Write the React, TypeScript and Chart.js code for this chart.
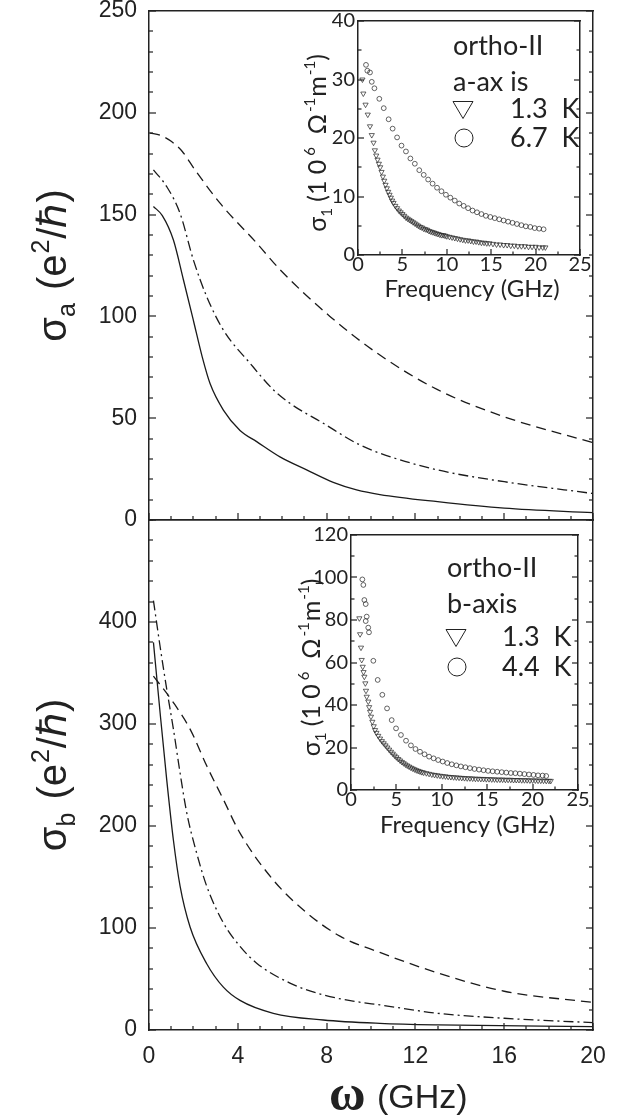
import React, { useEffect, useRef } from 'react';
import { Chart, registerables } from 'chart.js';
Chart.register(...registerables);

// ---------- main panel (a-axis) : sigma_a vs omega (GHz) ----------
const aDashW = [0.05, 0.5, 1.0, 1.5, 2.07, 3.2, 4.85, 5.9, 8.15, 10.4, 13, 16, 20];
const aDashS = [190, 189, 186, 181, 172, 155.6, 136, 123, 100, 81, 64, 50.7, 38];
const aDotW = [0.2, 0.8, 1.4, 2.0, 2.6, 3.35, 4.55, 5.6, 6.35, 7.85, 9.35, 10.4, 13, 16, 20];
const aDotS = [172, 163.7, 150.6, 127.7, 109.7, 93.3, 77, 64, 57.3, 47.5, 37.7, 32.8, 24.6, 18.8, 13];
const aSolW = [0.2, 0.6, 1.1, 1.55, 2.0, 2.4, 2.75, 3.35, 4.1, 4.85, 5.9, 7.1, 8.3, 9.35, 10.4, 13, 16, 20];
const aSolS = [154, 149.5, 137.5, 118, 98, 80, 67, 54, 44, 38.5, 31, 24.6, 18.5, 14.8, 12.5, 9, 5.8, 3.6];

// ---------- main panel (b-axis) ----------
const bDashW = [0.2, 1.1, 1.85, 2.6, 3.35, 4.1, 5.6, 7.1, 8.6, 10.4, 13, 16, 20];
const bDashS = [347, 321, 295, 259, 226, 193, 147, 115, 92, 76, 56, 38, 27];
const bDotW = [0.2, 0.5, 0.8, 1.1, 1.4, 1.7, 2.14, 2.6, 3.35, 4.1, 4.85, 6.35, 7.85, 9.35, 10.4, 13, 16, 20];
const bDotS = [421, 376, 334, 295, 252, 213, 174, 141, 105, 82, 65.5, 46, 34.4, 27.8, 24.6, 16.4, 11.5, 7.2];
const bSolW = [0.2, 0.5, 0.8, 1.1, 1.4, 1.85, 2.6, 3.35, 4.1, 5.6, 7.85, 10.4, 13, 20];
const bSolS = [380, 311, 245, 186, 141, 101, 65, 42, 29, 16.4, 9.8, 6.5, 5, 3.3];

const mainXLabels = [0, 4, 8, 12, 16, 20];
const aYLabels = [0, 50, 100, 150, 200, 250];
const bYLabels = [0, 100, 200, 300, 400];

// ---------- inset a (a-axis) ----------
const iaTriF = [0.5, 0.6, 0.85, 1.1, 1.35, 1.55, 1.75, 1.9, 2.05, 2.2, 2.35, 2.5, 2.65, 2.8, 2.95, 3.1, 3.25, 3.4, 3.55, 3.7, 3.85, 4.0, 4.2, 4.4, 4.6, 4.8, 5.0, 5.2, 5.4, 5.6, 5.8, 6.0, 6.2, 6.4, 6.6, 6.8, 7.0, 7.2, 7.4, 7.6, 7.8, 8.0, 8.2, 8.4, 8.6, 8.8, 9.0, 9.2, 9.4, 9.6, 9.8, 10.0, 10.3, 10.6, 10.9, 11.2, 11.5, 11.8, 12.1, 12.4, 12.7, 13.0, 13.3, 13.6, 13.9, 14.2, 14.5, 14.8, 15.2, 15.6, 16.0, 16.4, 16.8, 17.2, 17.6, 18.0, 18.4, 18.8, 19.2, 19.6, 20.0, 20.4, 20.8, 21.1];
const iaTriS = [30.0, 27.6, 25.7, 24.0, 22.0, 20.5, 19.2, 17.9, 17.0, 16.3, 15.6, 15.0, 14.2, 13.4, 12.7, 12.0, 11.4, 10.8, 10.3, 9.8, 9.3, 8.9, 8.4, 8.0, 7.6, 7.3, 7.0, 6.7, 6.4, 6.2, 6.0, 5.8, 5.6, 5.4, 5.2, 5.0, 4.8, 4.7, 4.5, 4.4, 4.3, 4.1, 4.0, 3.9, 3.8, 3.7, 3.6, 3.5, 3.4, 3.4, 3.3, 3.2, 3.1, 3.0, 2.9, 2.8, 2.7, 2.6, 2.5, 2.5, 2.4, 2.3, 2.3, 2.2, 2.1, 2.1, 2.0, 2.0, 1.9, 1.8, 1.8, 1.7, 1.7, 1.6, 1.6, 1.5, 1.5, 1.5, 1.4, 1.4, 1.4, 1.3, 1.3, 1.3];
const iaCirF = [0.9, 1.05, 1.35, 1.55, 1.85, 2.4, 2.9, 3.45, 3.9, 4.4, 4.9, 5.4, 5.9, 6.4, 6.9, 7.4, 7.9, 8.4, 8.9, 9.4, 9.9, 10.4, 10.9, 11.4, 11.9, 12.4, 12.9, 13.4, 13.9, 14.4, 14.9, 15.4, 15.9, 16.4, 16.9, 17.4, 17.9, 18.4, 18.9, 19.4, 19.9, 20.4, 20.9];
const iaCirS = [32.5, 31.5, 31.2, 29.6, 28.5, 26.7, 25.1, 23.2, 21.6, 20.1, 18.7, 17.7, 16.5, 15.6, 14.5, 13.7, 12.9, 12.2, 11.5, 10.9, 10.3, 9.8, 9.3, 8.8, 8.4, 8.0, 7.6, 7.3, 7.0, 6.7, 6.5, 6.3, 6.1, 5.9, 5.7, 5.5, 5.3, 5.1, 4.9, 4.8, 4.6, 4.5, 4.4];

// ---------- inset b (b-axis) ----------
const ibTriF = [0.92, 1.0, 1.1, 1.18, 1.29, 1.38, 1.47, 1.58, 1.65, 1.73, 1.9, 2.0, 2.1, 2.2, 2.35, 2.5, 2.65, 2.8, 3.0, 3.2, 3.4, 3.6, 3.8, 4.0, 4.2, 4.4, 4.6, 4.8, 5.0, 5.2, 5.4, 5.6, 5.8, 6.0, 6.2, 6.4, 6.6, 6.8, 7.0, 7.2, 7.4, 7.6, 7.8, 8.0, 8.3, 8.6, 8.9, 9.2, 9.5, 9.8, 10.1, 10.4, 10.7, 11.0, 11.3, 11.6, 11.9, 12.2, 12.5, 12.8, 13.1, 13.4, 13.7, 14.0, 14.3, 14.6, 14.9, 15.2, 15.5, 15.8, 16.1, 16.4, 16.7, 17.0, 17.3, 17.6, 17.9, 18.2, 18.5, 18.8, 19.1, 19.4, 19.7, 20.0, 20.3, 20.6, 20.9, 21.2, 21.5, 21.8, 22.0];
const ibTriS = [80.8, 73.3, 67, 61.2, 58, 55.5, 53.3, 50.2, 46.7, 43.9, 41.6, 39, 36.8, 34.5, 32.1, 30, 28.2, 26.9, 25.5, 24.2, 23.0, 22.0, 21.0, 20.0, 19.0, 18.0, 17.1, 16.2, 15.4, 14.6, 13.9, 13.2, 12.6, 12.0, 11.5, 11.0, 10.5, 10.1, 9.7, 9.3, 9.0, 8.7, 8.4, 8.2, 7.9, 7.6, 7.3, 7.1, 6.9, 6.7, 6.5, 6.4, 6.2, 6.1, 6.0, 5.9, 5.8, 5.7, 5.6, 5.5, 5.5, 5.4, 5.3, 5.3, 5.2, 5.2, 5.1, 5.1, 5.0, 5.0, 4.9, 4.9, 4.9, 4.8, 4.8, 4.8, 4.7, 4.7, 4.7, 4.6, 4.6, 4.6, 4.5, 4.5, 4.5, 4.4, 4.4, 4.4, 4.3, 4.3, 4.3];
const ibCirF = [1.25, 1.36, 1.47, 1.62, 1.73, 1.62, 1.9, 1.98, 2.46, 2.94, 3.45, 3.97, 4.48, 4.96, 5.5, 6.06, 6.6, 7.1, 7.6, 8.1, 8.6, 9.1, 9.6, 10.1, 10.6, 11.1, 11.6, 12.1, 12.6, 13.1, 13.6, 14.1, 14.6, 15.1, 15.6, 16.1, 16.6, 17.1, 17.6, 18.1, 18.6, 19.1, 19.6, 20.1, 20.6, 21.1, 21.5];
const ibCirS = [99.1, 96.5, 89.4, 87.5, 81.6, 79.5, 76.4, 74.2, 60.8, 51.8, 44.8, 38.4, 32.9, 29.0, 25.9, 23.2, 21.0, 19.3, 18.0, 16.8, 15.7, 14.9, 14.1, 13.4, 12.7, 12.1, 11.6, 11.1, 10.7, 10.3, 9.9, 9.6, 9.3, 9.0, 8.8, 8.6, 8.4, 8.2, 8.0, 7.9, 7.7, 7.5, 7.3, 7.1, 6.9, 6.8, 6.6];

const insetXLabels = [0, 5, 10, 15, 20, 25];
const iaYLabels = [0, 10, 20, 30, 40];
const ibYLabels = [0, 20, 40, 60, 80, 100, 120];
const iaLegend = ['ortho-II', 'a-ax is', '1.3  K', '6.7  K'];
const ibLegend = ['ortho-II', 'b-axis', '1.3  K', '4.4  K'];

// ---------------------------------------------------------------
const SANS = "'Liberation Sans', Arial, sans-serif";
const INF = "Lato, 'Open Sans', sans-serif";
const INK = '#222';

const zip = (xs: number[], ys: number[]) => xs.map((x, i) => ({ x, y: ys[i] }));

type Run = { t: string; f: string; dy?: number; dx?: number };
function runsWidth(ctx: CanvasRenderingContext2D, runs: Run[]) {
  let w = 0;
  for (const r of runs) { ctx.font = r.f; w += ctx.measureText(r.t).width + (r.dx || 0); }
  return w;
}
function drawRuns(ctx: CanvasRenderingContext2D, runs: Run[], x: number, y: number) {
  let cx = x;
  for (const r of runs) {
    ctx.font = r.f;
    cx += r.dx || 0;
    ctx.fillText(r.t, cx, y + (r.dy || 0));
    cx += ctx.measureText(r.t).width;
  }
}
function drawRotated(ctx: CanvasRenderingContext2D, runs: Run[], bx: number, cy: number) {
  ctx.save();
  ctx.translate(bx, cy);
  ctx.rotate(-Math.PI / 2);
  ctx.textBaseline = 'alphabetic';
  ctx.textAlign = 'left';
  const w = runsWidth(ctx, runs);
  drawRuns(ctx, runs, -w / 2, 0);
  ctx.restore();
}

function framePlugin(opt: {
  xMax: number; xStep: number; xMajor: number[];
  yMax: number; yStep: number; yMajor: number[];
  maj: number; min: number; lw: number;
}) {
  return {
    id: 'frameTicks',
    afterDraw(chart: any) {
      const ctx = chart.ctx as CanvasRenderingContext2D;
      const a = chart.chartArea;
      const xs = chart.scales.x;
      const ys = chart.scales.y;
      ctx.save();
      ctx.setLineDash([]);
      ctx.fillStyle = INK;
      const L = Math.round(a.left), R = Math.round(a.right), T = Math.round(a.top), B = Math.round(a.bottom);
      // frame
      ctx.fillRect(L - 1, T - 1, R - L + 2, opt.lw);
      ctx.fillRect(L - 1, B - 1, R - L + 2, opt.lw);
      ctx.fillRect(L - 1, T - 1, opt.lw, B - T + 2);
      ctx.fillRect(R - 1, T - 1, opt.lw, B - T + 2);
      // ticks
      const n = Math.round(opt.xMax / opt.xStep);
      for (let i = 0; i <= n; i++) {
        const v = i * opt.xStep;
        const px = Math.round(xs.getPixelForValue(v));
        const len = opt.xMajor.includes(v) ? opt.maj : opt.min;
        ctx.fillRect(px - 0.6, B - len, 1.2, len);
      }
      const m = Math.round(opt.yMax / opt.yStep);
      for (let i = 0; i <= m; i++) {
        const v = i * opt.yStep;
        const py = Math.round(ys.getPixelForValue(v));
        const len = opt.yMajor.includes(v) ? opt.maj : opt.min;
        ctx.fillRect(L, py - 0.6, len, 1.2);
        ctx.fillRect(R - len, py - 0.6, len, 1.2);
      }
      ctx.restore();
    },
  };
}

function textPlugin(draw: (ctx: CanvasRenderingContext2D, chart: any) => void) {
  return {
    id: 'texts',
    afterDraw(chart: any) {
      const ctx = chart.ctx as CanvasRenderingContext2D;
      ctx.save();
      ctx.fillStyle = INK;
      ctx.strokeStyle = INK;
      draw(ctx, chart);
      ctx.restore();
    },
  };
}

const lineDs = (xs: number[], ys: number[], dash: number[]) => ({
  data: zip(xs, ys),
  borderColor: '#1a1a1a',
  borderWidth: 1.3,
  borderDash: dash,
  pointRadius: 0,
  fill: false,
  cubicInterpolationMode: 'monotone' as const,
});

function mainConfig(p: {
  series: { w: number[]; s: number[]; dash: number[] }[];
  yMax: number; yStep: number; yLabels: number[]; padTop: number; xHeight: number; showX: boolean;
  texts: (ctx: CanvasRenderingContext2D, chart: any) => void;
}) {
  return {
    type: 'line',
    data: { datasets: p.series.map((s) => lineDs(s.w, s.s, s.dash)) },
    options: {
      responsive: false,
      maintainAspectRatio: false,
      animation: false,
      layout: { padding: { top: p.padTop, right: 33, left: 0, bottom: 0 } },
      plugins: { legend: { display: false }, tooltip: { enabled: false } },
      scales: {
        x: {
          type: 'linear', min: 0, max: 20,
          ticks: {
            stepSize: 1, display: p.showX, padding: 15, color: INK,
            font: { family: SANS, size: 23, lineHeight: 1 },
            callback: (v: number) => (mainXLabels.includes(v) ? String(v) : ''),
            maxRotation: 0, autoSkip: false,
          },
          grid: { display: false, drawTicks: false },
          border: { display: false },
          afterFit: (s: any) => { s.height = p.xHeight; s.paddingLeft = 0; s.paddingRight = 0; },
        },
        y: {
          type: 'linear', min: 0, max: p.yMax,
          ticks: {
            stepSize: p.yStep, padding: 12, color: INK,
            font: { family: SANS, size: 23, lineHeight: 1 },
            callback: (v: number) => (p.yLabels.includes(v) ? String(v) : ''),
            autoSkip: false,
          },
          grid: { display: false, drawTicks: false },
          border: { display: false },
          afterFit: (s: any) => { s.width = 149; s.paddingTop = 0; s.paddingBottom = 0; },
        },
      },
    },
    plugins: [
      framePlugin({
        xMax: 20, xStep: 1, xMajor: mainXLabels,
        yMax: p.yMax, yStep: p.yStep, yMajor: p.yLabels,
        maj: 7, min: 4, lw: 1.5,
      }),
      textPlugin(p.texts),
    ],
  };
}

function insetConfig(p: {
  tri: { f: number[]; s: number[] }; cir: { f: number[]; s: number[] };
  yMax: number; yStep: number; yLabels: number[]; padTop: number; padRight: number; yWidth: number;
  legend: string[]; lg: { x: number; y1: number; y2: number; sx: number; tx: number; y3: number; y4: number };
  titleX: number; xTitleY: number;
}) {
  const pointDs = (d: { f: number[]; s: number[] }, style: string, r: number, rot: number) => ({
    data: zip(d.f, d.s),
    pointStyle: style,
    rotation: rot,
    pointRadius: r,
    pointBorderWidth: 0.7,
    borderColor: INK,
    backgroundColor: 'rgba(0,0,0,0)',
    showLine: false,
  });
  return {
    type: 'scatter',
    data: {
      datasets: [pointDs(p.tri, 'triangle', 3, 180), pointDs(p.cir, 'circle', 2.4, 0)],
    },
    options: {
      responsive: false,
      maintainAspectRatio: false,
      animation: false,
      layout: { padding: { top: p.padTop, right: p.padRight, left: 0, bottom: 0 } },
      plugins: { legend: { display: false }, tooltip: { enabled: false } },
      scales: {
        x: {
          type: 'linear', min: 0, max: 25,
          ticks: {
            stepSize: 2.5, padding: 0, color: INK,
            font: { family: INF, size: 20, lineHeight: 1 },
            callback: (v: number) => (insetXLabels.includes(v) ? String(v) : ''),
            maxRotation: 0, autoSkip: false,
          },
          grid: { display: false, drawTicks: false },
          border: { display: false },
          afterFit: (s: any) => { s.height = 55; s.paddingLeft = 0; s.paddingRight = 0; },
        },
        y: {
          type: 'linear', min: 0, max: p.yMax,
          ticks: {
            stepSize: p.yStep, padding: 3, color: INK,
            font: { family: INF, size: 20, lineHeight: 1 },
            callback: (v: number) => (p.yLabels.includes(v) ? String(v) : ''),
            autoSkip: false,
          },
          grid: { display: false, drawTicks: false },
          border: { display: false },
          afterFit: (s: any) => { s.width = p.yWidth; s.paddingTop = 0; s.paddingBottom = 0; },
        },
      },
    },
    plugins: [
      framePlugin({
        xMax: 25, xStep: 2.5, xMajor: insetXLabels,
        yMax: p.yMax, yStep: p.yStep, yMajor: p.yLabels,
        maj: 6, min: 3.5, lw: 1.5,
      }),
      textPlugin((ctx, chart) => {
        const a = chart.chartArea;
        // x title
        ctx.font = `24px ${INF}`;
        ctx.textAlign = 'center';
        ctx.textBaseline = 'alphabetic';
        ctx.fillText('Frequency (GHz)', (a.left + a.right) / 2 + 3, p.xTitleY);
        // y title
        const big = `25px ${INF}`;
        const sm = `15px ${INF}`;
        drawRotated(ctx, [
          { t: 'σ', f: big },
          { t: '1', f: sm, dy: 6 },
          { t: ' (1 0', f: big },
          { t: '6', f: sm, dy: -11, dx: 4 },
          { t: '  Ω', f: big },
          { t: '-1', f: sm, dy: -11, dx: 2 },
          { t: 'm', f: big, dx: 1 },
          { t: '-1', f: sm, dy: -11, dx: 1 },
          { t: ')', f: big },
        ], p.titleX, (a.top + a.bottom) / 2 + 5);
        // legend
        ctx.textAlign = 'left';
        ctx.font = `27px ${INF}`;
        const L = p.lg;
        ctx.fillText(p.legend[0], L.x, L.y1);
        ctx.fillText(p.legend[1], L.x, L.y2);
        ctx.fillText(p.legend[2], L.tx, L.y3);
        ctx.fillText(p.legend[3], L.tx, L.y4);
        ctx.lineWidth = 1;
        const ty = L.y3 - 8;
        ctx.beginPath();
        ctx.moveTo(L.sx - 10, ty - 8.5);
        ctx.lineTo(L.sx + 10, ty - 8.5);
        ctx.lineTo(L.sx, ty + 8.5);
        ctx.closePath();
        ctx.stroke();
        ctx.beginPath();
        ctx.arc(L.sx + 1, L.y4 - 9, 9, 0, Math.PI * 2);
        ctx.stroke();
      }),
    ],
  };
}

function ChartCanvas({ left, top, width, height, config }: { left: number; top: number; width: number; height: number; config: () => any }) {
  const ref = useRef<HTMLCanvasElement>(null);
  useEffect(() => {
    if (!ref.current) return;
    const chart = new Chart(ref.current, config());
    return () => chart.destroy();
  }, []);
  return (
    <canvas
      ref={ref}
      width={width}
      height={height}
      style={{ position: 'absolute', left, top, width, height }}
    />
  );
}

const mainTitle = (sub: string): Run[] => {
  const big = `40px ${SANS}`;
  const sm = `25px ${SANS}`;
  return [
    { t: 'σ', f: big },
    { t: sub, f: sm, dy: 9 },
    { t: ' (e', f: big, dx: 2 },
    { t: '2', f: sm, dy: -17, dx: 1 },
    { t: '/ℏ)', f: big, dx: 1 },
  ];
};

export default function App() {
  return (
    <div style={{ position: 'absolute', left: 0, top: 0, width: 626, height: 1120, background: '#fff', overflow: 'hidden' }}>
      <ChartCanvas
        left={0} top={0} width={626} height={540}
        config={() => mainConfig({
          series: [
            { w: aDashW, s: aDashS, dash: [10, 6] },
            { w: aDotW, s: aDotS, dash: [10, 4, 2, 4] },
            { w: aSolW, s: aSolS, dash: [] },
          ],
          yMax: 250, yStep: 10, yLabels: aYLabels, padTop: 11, xHeight: 20, showX: false,
          texts: (ctx, chart) => {
            const a = chart.chartArea;
            drawRotated(ctx, mainTitle('a'), 66, (a.top + a.bottom) / 2);
          },
        })}
      />
      <ChartCanvas
        left={0} top={500} width={626} height={620}
        config={() => mainConfig({
          series: [
            { w: bDashW, s: bDashS, dash: [10, 6] },
            { w: bDotW, s: bDotS, dash: [10, 4, 2, 4] },
            { w: bSolW, s: bSolS, dash: [] },
          ],
          yMax: 500, yStep: 20, yLabels: bYLabels, padTop: 20, xHeight: 90, showX: true,
          texts: (ctx, chart) => {
            const a = chart.chartArea;
            drawRotated(ctx, mainTitle('b'), 66, (a.top + a.bottom) / 2);
            ctx.textAlign = 'left';
            ctx.textBaseline = 'alphabetic';
            ctx.font = `bold 50px 'Liberation Serif', serif`;
            ctx.fillText('ω', 329, 610);
            ctx.font = `34px ${SANS}`;
            ctx.fillText('(GHz)', 377, 608);
          },
        })}
      />
      <ChartCanvas
        left={290} top={0} width={336} height={310}
        config={() => insetConfig({
          tri: { f: iaTriF, s: iaTriS }, cir: { f: iaCirF, s: iaCirS },
          yMax: 40, yStep: 5, yLabels: iaYLabels, padTop: 21, padRight: 46, yWidth: 68,
          legend: iaLegend,
          lg: { x: 163, y1: 55, y2: 91, sx: 173, tx: 220, y3: 118, y4: 147 },
          titleX: 36, xTitleY: 297,
        })}
      />
      <ChartCanvas
        left={290} top={515} width={336} height={330}
        config={() => insetConfig({
          tri: { f: ibTriF, s: ibTriS }, cir: { f: ibCirF, s: ibCirS },
          yMax: 120, yStep: 10, yLabels: ibYLabels, padTop: 20, padRight: 48, yWidth: 61,
          legend: ibLegend,
          lg: { x: 157, y1: 62, y2: 98, sx: 166, tx: 212, y3: 131, y4: 161 },
          titleX: 30, xTitleY: 318,
        })}
      />
    </div>
  );
}
